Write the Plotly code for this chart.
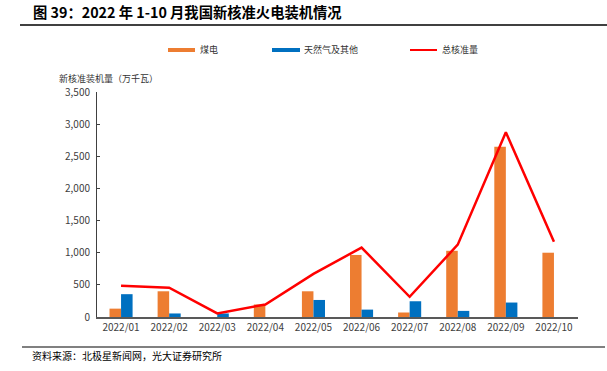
import plotly.graph_objects as go

months = ["2022/01", "2022/02", "2022/03", "2022/04", "2022/05",
          "2022/06", "2022/07", "2022/08", "2022/09", "2022/10"]
coal = [130, 400, 0, 195, 400, 965, 70, 1030, 2650, 1000]
gas_other = [355, 55, 55, 0, 265, 115, 245, 95, 225, 0]
total = [485, 455, 55, 195, 670, 1080, 315, 1125, 2875, 1170]

W, H = 607, 371
L, R, T, B = 97, 578, 92, 317
FONT = "Noto Sans CJK SC"


def px(x):
    return (x - L) / (R - L)


def py(y):
    return (B - y) / (B - T)


fig = go.Figure()
fig.add_trace(go.Bar(x=months, y=coal, name="煤电", marker_color="#ED7D31",
                     marker_line_width=0, showlegend=False))
fig.add_trace(go.Bar(x=months, y=gas_other, name="天然气及其他", marker_color="#0070C0",
                     marker_line_width=0, showlegend=False))
fig.add_trace(go.Scatter(x=months, y=total, name="总核准量", mode="lines",
                         line=dict(color="#FF0000", width=2.5), showlegend=False))

shapes = [
    # title underline
    dict(type="line", xref="paper", yref="paper", x0=px(20), x1=px(607), y0=py(25), y1=py(25),
         line=dict(color="#000000", width=1.5)),
    # bottom separator
    dict(type="line", xref="paper", yref="paper", x0=px(22), x1=px(605), y0=py(347), y1=py(347),
         line=dict(color="#808080", width=2)),
    # legend swatches
    dict(type="line", xref="paper", yref="paper", x0=px(168), x1=px(195), y0=py(50), y1=py(50),
         line=dict(color="#ED7D31", width=4)),
    dict(type="line", xref="paper", yref="paper", x0=px(272), x1=px(300), y0=py(50), y1=py(50),
         line=dict(color="#0070C0", width=4)),
    dict(type="line", xref="paper", yref="paper", x0=px(410), x1=px(437), y0=py(50), y1=py(50),
         line=dict(color="#FF0000", width=2)),
]

annotations = [
    dict(text="<b>图 39：2022 年 1-10 月我国新核准火电装机情况</b>", xref="paper", yref="paper",
         x=px(31), y=py(12), xanchor="left", yanchor="middle", showarrow=False,
         font=dict(family=FONT, size=14.3, color="#000000")),
    dict(text="煤电", xref="paper", yref="paper", x=px(198), y=py(50), xanchor="left",
         yanchor="middle", showarrow=False, font=dict(family=FONT, size=9, color="#333333")),
    dict(text="天然气及其他", xref="paper", yref="paper", x=px(302), y=py(50), xanchor="left",
         yanchor="middle", showarrow=False, font=dict(family=FONT, size=9, color="#333333")),
    dict(text="总核准量", xref="paper", yref="paper", x=px(440), y=py(50), xanchor="left",
         yanchor="middle", showarrow=False, font=dict(family=FONT, size=9, color="#333333")),
    dict(text="新核准装机量（万千瓦）", xref="paper", yref="paper", x=px(57), y=py(78),
         xanchor="left", yanchor="middle", showarrow=False,
         font=dict(family=FONT, size=9, color="#333333")),
    dict(text="资料来源：北极星新闻网，光大证券研究所", xref="paper", yref="paper", x=px(30),
         y=py(355), xanchor="left", yanchor="middle", showarrow=False,
         font=dict(family=FONT, size=10, color="#000000")),
]

fig.update_layout(
    width=W, height=H,
    margin=dict(l=L, r=W - R, t=T, b=H - B, pad=0),
    paper_bgcolor="#FFFFFF", plot_bgcolor="#FFFFFF",
    barmode="group", bargap=0.52, bargroupgap=0,
    font=dict(family=FONT, size=10, color="#404040"),
    shapes=shapes, annotations=annotations,
    xaxis=dict(showgrid=False, showline=True, linecolor="#595959", linewidth=2,
               ticks="", tickfont=dict(size=10, color="#404040"), fixedrange=True),
    yaxis=dict(range=[0, 3500], dtick=500, tickformat=",", showgrid=False, zeroline=False,
               showline=True, linecolor="#404040", linewidth=1, ticks="inside", ticklen=3,
               tickcolor="#404040", tickfont=dict(size=10, color="#404040"),
               ticklabelstandoff=4, fixedrange=True),
)

fig.write_html("out.html", config={"displayModeBar": False},
               post_script="document.body.style.margin='0';document.body.style.overflow='hidden';")
